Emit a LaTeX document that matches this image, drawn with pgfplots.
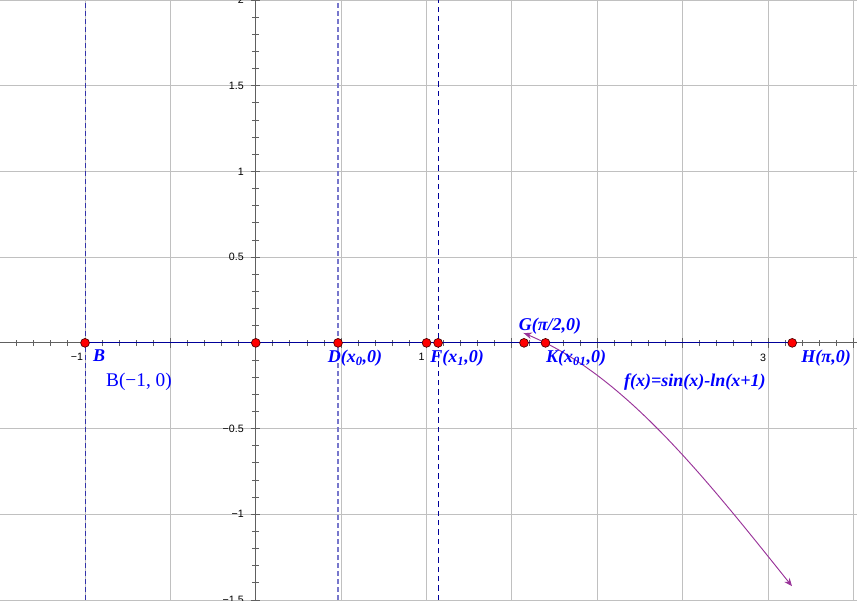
\documentclass[border=0pt]{standalone}
\usepackage{fontspec}
\setmainfont{Liberation Serif}
\newfontfamily\ticksans{Liberation Sans}
\usepackage{pgfplots}
\pgfplotsset{compat=1.18}
\usetikzlibrary{arrows.meta}

\definecolor{gridgray}{RGB}{192,192,192}
\definecolor{axgray}{RGB}{96,96,96}
\definecolor{navy}{RGB}{0,0,153}
\definecolor{midblue}{RGB}{51,51,170}
\definecolor{lblblue}{RGB}{0,0,255}
\definecolor{lineblue}{RGB}{119,119,204}
\definecolor{curvepurple}{RGB}{153,51,153}

\begin{document}
\begin{tikzpicture}
\begin{axis}[
    scale only axis,
    width=642.75pt, height=450pt,
    xmin=-1.498, xmax=3.521,
    ymin=-1.5, ymax=2,
    axis lines=middle,
    axis line style={axgray, line width=0.8pt, -},
    xtick={-1.5,-1,...,3.5},
    ytick={-1.5,-1,...,2},
    xticklabels={,−1,,,,1,,,,3,},
    yticklabels={−1.5,−1,−0.5,,0.5,1,1.5,2},
    minor x tick num=4,
    minor y tick num=4,
    major tick length=7pt,
    minor tick length=5pt,
    tick style={axgray, line width=0.7pt},
    grid=major,
    major grid style={gridgray, line width=0.7pt},
    tick label style={font=\ticksans\fontsize{8}{9}\selectfont, black},
    xticklabel style={anchor=north east, xshift=2pt, yshift=-1pt},
    yticklabel style={anchor=east, xshift=-2pt},
    clip=false,
]
\coordinate (ll) at (rel axis cs:0,0);
\coordinate (ur) at (rel axis cs:1,1);
% dashed vertical lines
\addplot[midblue, dash pattern=on 4pt off 2pt, line width=0.8pt] coordinates {(-1,-1.5) (-1,2)};
\addplot[lineblue, dash pattern=on 4pt off 2pt, line width=1.5pt] coordinates {(0.4817,-1.5) (0.4817,2)};
\addplot[navy, dash pattern=on 4pt off 3pt, line width=0.8pt] coordinates {(1.0676,-1.5) (1.0676,2)};
% segment B to H on the x axis
\addplot[navy, line width=0.8pt] coordinates {(-1,0) (3.1416,0)};
% f(x) = sin(x) - ln(x+1)
\addplot[curvepurple, line width=0.7pt, {Stealth[length=6pt,width=5pt]}-{Stealth[length=6pt,width=5pt]}, smooth] coordinates {
(1.57,0.0560) (1.6,0.0441) (1.7,-0.0016) (1.8,-0.0558) (1.9,-0.1184)
(2.0,-0.1893) (2.1,-0.2682) (2.2,-0.3547) (2.3,-0.4482) (2.4,-0.5483)
(2.5,-0.6543) (2.6,-0.7654) (2.7,-0.8810) (2.8,-1.0000) (2.9,-1.1217)
(3.0,-1.2452) (3.1,-1.3694) (3.14,-1.4191)
};
% points
\addplot[only marks, mark=*, mark size=3.3pt, mark options={fill=red, draw=black!70!red, line width=0.5pt}] coordinates {
(-1,0) (0,0) (0.4817,0) (1,0) (1.0676,0) (1.5708,0) (1.6965,0) (3.1416,0)
};
% labels
\begin{scope}[every node/.style={text=lblblue, font=\bfseries\itshape\fontsize{13.5}{15}\selectfont, inner sep=0pt}]
\node at (axis cs:-0.918,-0.072) {B};
\node at (axis cs:0.581,-0.088) {D(x\textsubscript{0},0)};
\node at (axis cs:1.179,-0.088) {F(x\textsubscript{1},0)};
\node at (axis cs:1.723,0.099) {G(π/2,0)};
\node at (axis cs:1.876,-0.088) {K(x\textsubscript{01},0)};
\node at (axis cs:2.571,-0.227) {f(x)=sin(x)-ln(x+1)};
\node at (axis cs:3.340,-0.088) {H(π,0)};
\end{scope}
\node[text=lblblue, font=\fontsize{14.5}{16}\selectfont, inner sep=0pt] at (axis cs:-0.684,-0.227) {B(−1, 0)};
\end{axis}
\pgfresetboundingbox
\path[use as bounding box] (ll) rectangle (ur);
\end{tikzpicture}
\end{document}
